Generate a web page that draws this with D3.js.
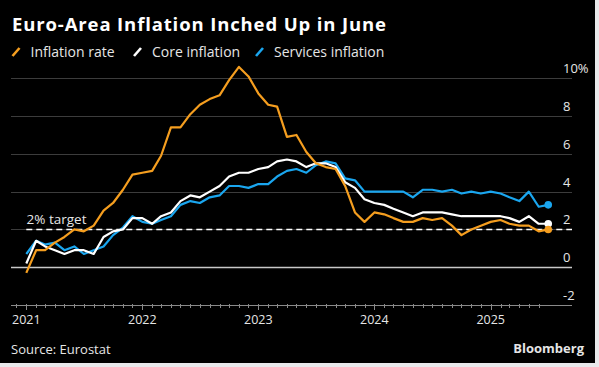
<!DOCTYPE html>
<html><head><meta charset="utf-8">
<script src="https://cdn.jsdelivr.net/npm/d3@7"></script>
<style>
html,body{margin:0;padding:0;background:#e9e9eb;}
svg{display:block;}
</style></head>
<body>
<svg id="c" width="599" height="367"></svg>
<script>
// Data: month-end observations, Dec 2020 .. Jun 2025
const startYear = 2020, startMonth = 11; // Dec 2020
const inflationRate = [-0.3,
  0.9,0.9,1.3,1.6,2.0,1.9,2.2,3.0,3.4,4.1,4.9,5.0,
  5.1,5.9,7.4,7.4,8.1,8.6,8.9,9.1,9.9,10.6,10.1,9.2,
  8.6,8.5,6.9,7.0,6.1,5.5,5.3,5.2,4.3,2.9,2.4,2.9,
  2.8,2.6,2.4,2.4,2.6,2.5,2.6,2.2,1.7,2.0,2.2,2.4,
  2.5,2.3,2.2,2.2,1.9,2.0];
const coreInflation = [0.2,
  1.4,1.1,0.9,0.7,0.9,0.9,0.7,1.6,1.9,2.0,2.6,2.6,
  2.3,2.7,2.9,3.5,3.8,3.7,4.0,4.3,4.8,5.0,5.0,5.2,
  5.3,5.6,5.7,5.6,5.3,5.5,5.5,5.3,4.5,4.2,3.6,3.4,
  3.3,3.1,2.9,2.7,2.9,2.9,2.9,2.8,2.7,2.7,2.7,2.7,
  2.7,2.6,2.4,2.7,2.3,2.3];
const servicesInflation = [0.7,
  1.4,1.2,1.3,0.9,1.1,0.7,0.9,1.1,1.7,2.1,2.7,2.4,
  2.3,2.5,2.7,3.3,3.5,3.4,3.7,3.8,4.3,4.3,4.2,4.4,
  4.4,4.8,5.1,5.2,5.0,5.4,5.6,5.5,4.7,4.6,4.0,4.0,
  4.0,4.0,4.0,3.7,4.1,4.1,4.0,4.1,3.9,4.0,3.9,4.0,
  3.9,3.7,3.5,4.0,3.2,3.3];
const seriesNames = ["Inflation rate","Core inflation","Services inflation"];
const seriesColors = ["#f59e1f","#ffffff","#1aa6ef"];
const yTicks = [-2,0,2,4,6,8,10];
const yTickLabels = ["-2","0","2","4","6","8","10%"];
const xYears = [2021,2022,2023,2024,2025];
const target = 2;

const svg = d3.select("#c");
svg.append("rect").attr("x",0).attr("y",0).attr("width",595).attr("height",363).attr("fill","#000");

// month-end dates (plotted at first day of following month)
const dates = inflationRate.map((_,i)=> new Date(startYear, startMonth + i + 1, 1));

const x = d3.scaleTime().domain([new Date(2021,0,1), new Date(2025,0,1)]).range([26.3, 490.7]);
const y = d3.scaleLinear().domain([-2,10]).range([305,78.3]);
const gx0 = 11, gx1 = 572;

const font = "'Open Sans', 'Noto Sans', sans-serif";

// gridlines
svg.append("g").selectAll("line").data(yTicks.filter(v=>v!==-2)).join("line")
  .attr("x1",gx0).attr("x2",gx1)
  .attr("y1",d=>Math.round(y(d))+0.5).attr("y2",d=>Math.round(y(d))+0.5)
  .attr("stroke",d=>d===0?"#c8c8c8":"#3c3c3c").attr("stroke-width",d=>d===0?1.3:1.2);

// y labels
svg.append("g").selectAll("text").data(yTicks).join("text")
  .attr("x",563).attr("y",d=>y(d)-5)
  .attr("fill","#e6e6e6").attr("font-family",font).attr("font-size",13)
  .text((d,i)=>yTickLabels[i]);

// x axis
const axisY = 305;
svg.append("line").attr("x1",gx0).attr("x2",gx1).attr("y1",axisY+0.5).attr("y2",axisY+0.5)
  .attr("stroke","#8a8a8a").attr("stroke-width",1);
const months = d3.timeMonth.range(new Date(2020,11,1), new Date(2025,5,2));
svg.append("g").selectAll("line").data(months).join("line")
  .attr("x1",d=>Math.round(x(d))+0.5).attr("x2",d=>Math.round(x(d))+0.5)
  .attr("y1",axisY-1).attr("y2",d=>d.getMonth()===0?axisY+5:axisY+3)
  .attr("stroke","#8a8a8a").attr("stroke-width",1);
svg.append("g").selectAll("text").data(xYears).join("text")
  .attr("x",d=>x(new Date(d,0,1))).attr("y",324)
  .attr("text-anchor","middle").attr("fill","#e6e6e6")
  .attr("font-family",font).attr("font-size",12.5)
  .text(d=>d);

// target line
svg.append("line").attr("x1",x(dates[0])).attr("x2",gx1)
  .attr("y1",y(target)).attr("y2",y(target))
  .attr("stroke","#fff").attr("stroke-width",1.6).attr("stroke-dasharray","6,4");
svg.append("text").attr("x",26.5).attr("y",y(target)-5)
  .attr("fill","#e6e6e6").attr("font-family",font).attr("font-size",13.5)
  .text("2% target");

// lines
const line = d3.line().x((d,i)=>x(dates[i])).y(d=>y(d));
const allSeries = [servicesInflation, coreInflation, inflationRate];
const allColors = [seriesColors[2], seriesColors[1], seriesColors[0]];
allSeries.forEach((s,k)=>{
  svg.append("path").datum(s).attr("d",line).attr("fill","none")
    .attr("stroke",allColors[k]).attr("stroke-width",2.2).attr("stroke-linejoin","round");
});
allSeries.forEach((s,k)=>{
  const n = s.length-1;
  svg.append("circle").attr("cx",x(dates[n])).attr("cy",y(s[n])).attr("r",3.8).attr("fill",allColors[k]);
});

// title
const title = svg.append("text").attr("x",12).attr("y",31)
  .attr("fill","#fff").attr("font-family",font).attr("font-weight","bold").attr("font-size",18.5)
  .text("Euro-Area Inflation Inched Up in June");
const tw = title.node().getComputedTextLength();
const nChars = "Euro-Area Inflation Inched Up in June".length;
title.attr("letter-spacing", ((374 - tw) / (nChars - 1)).toFixed(2));

// legend
const legX = [11.5, 133, 255];
const lg = svg.append("g");
seriesNames.forEach((name,i)=>{
  lg.append("line").attr("x1",legX[i]+1).attr("y1",56).attr("x2",legX[i]+8).attr("y2",48)
    .attr("stroke",seriesColors[i]).attr("stroke-width",2.6);
  lg.append("text").attr("x",legX[i]+19).attr("y",57)
    .attr("fill","#e6e6e6").attr("font-family",font).attr("font-size",14)
    .text(name);
});

// footer
svg.append("text").attr("x",11).attr("y",354).attr("fill","#e6e6e6")
  .attr("font-family",font).attr("font-size",13).text("Source: Eurostat");
svg.append("text").attr("x",584).attr("y",353).attr("text-anchor","end").attr("fill","#e6e6e6")
  .attr("font-family",font).attr("font-weight","bold").attr("font-size",13).text("Bloomberg");
</script>
</body></html>
